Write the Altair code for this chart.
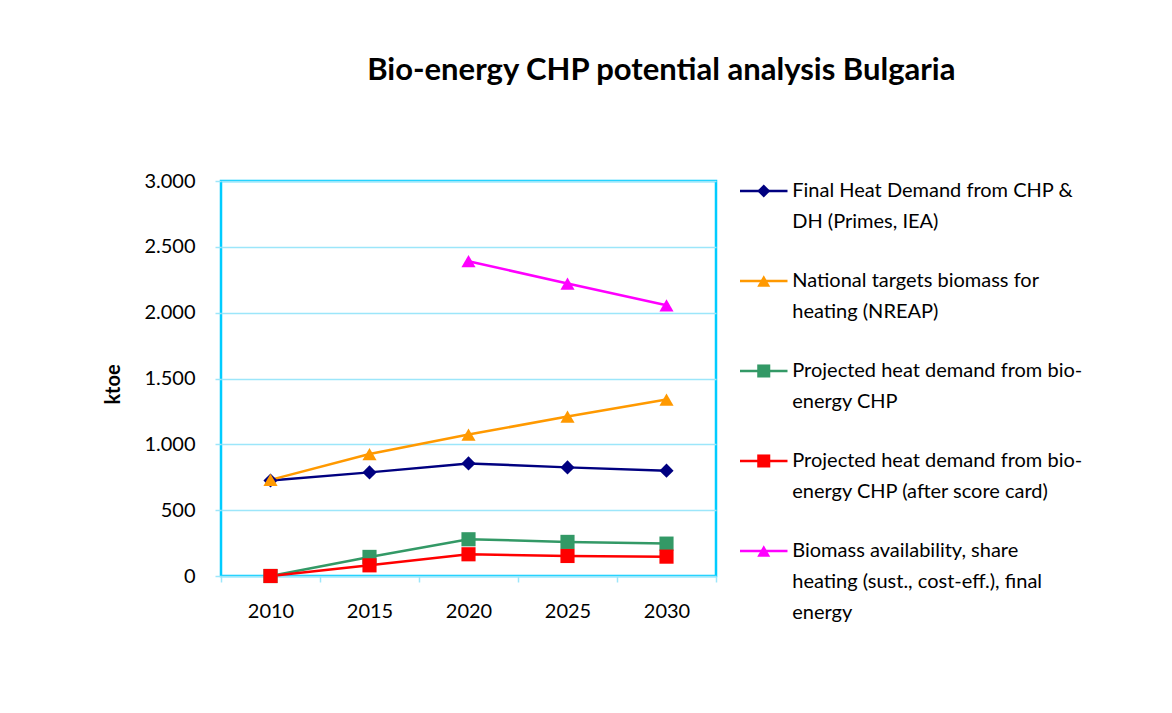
import altair as alt
import pandas as pd

FONT = "Lato"
GRID = "#9CE6FA"
FRAME = "#00CCFF"

years = ["2010", "2015", "2020", "2025", "2030"]
series_names = [
    "Final Heat Demand from CHP & DH (Primes, IEA)",
    "National targets biomass for heating (NREAP)",
    "Projected heat demand from bio-energy CHP",
    "Projected heat demand from bio-energy CHP (after score card)",
    "Biomass availability, share heating (sust., cost-eff.), final energy",
]
legend_labels = [
    "Final Heat Demand from CHP &\nDH (Primes, IEA)",
    "National targets biomass for\nheating (NREAP)",
    "Projected heat demand from bio-\nenergy CHP",
    "Projected heat demand from bio-\nenergy CHP (after score card)",
    "Biomass availability, share\nheating (sust., cost-eff.), final\nenergy",
]
final_heat = [725, 787, 855, 825, 800]
nreap_targets = [730, 926, 1074, 1211, 1340]
bio_chp = [0, 145, 279, 259, 246]
bio_chp_scored = [0, 81, 165, 152, 147]
biomass_avail = [None, None, 2391, 2221, 2056]

colors = ["#000080", "#FF9900", "#339966", "#FF0000", "#FF00FF"]
shapes = ["diamond", "triangle-up", "square", "square", "triangle-up"]
y_ticks = [0, 500, 1000, 1500, 2000, 2500, 3000]

all_series = [final_heat, nreap_targets, bio_chp, bio_chp_scored, biomass_avail]
rows = []
for name, vals in zip(series_names, all_series):
    for yr, v in zip(years, vals):
        if v is not None:
            rows.append({"series": name, "year": yr, "value": v})
df = pd.DataFrame(rows)

color_enc = alt.Color("series:N", scale=alt.Scale(domain=series_names, range=colors), legend=None)
shape_enc = alt.Shape("series:N", scale=alt.Scale(domain=series_names, range=shapes), legend=None)

x_enc = alt.X(
    "year:O",
    sort=years,
    scale=alt.Scale(paddingInner=0, paddingOuter=0),
    axis=alt.Axis(
        title=None, tickBand="extent", labelAngle=0, labelFont=FONT, labelFontSize=20,
        labelColor="#000000", labelPadding=19, tickColor=GRID, tickSize=6, tickWidth=1.5,
        domain=False, grid=False,
    ),
)
y_enc = alt.Y(
    "value:Q",
    scale=alt.Scale(domain=[0, 3000], nice=False),
    axis=alt.Axis(
        values=y_ticks,
        labelExpr="replace(format(datum.value, ','), ',', '.')",
        title="ktoe", titleFont=FONT, titleFontSize=20, titleFontWeight="bold",
        titleColor="#000000", titlePadding=20, titleY=203,
        labelFont=FONT, labelFontSize=20, labelColor="#000000", labelPadding=20,
        grid=True, gridColor=GRID, gridWidth=1.5, tickColor=GRID, tickSize=6, tickWidth=1.5,
        domain=False,
    ),
)

base = alt.Chart(df)
lines = base.mark_line(strokeWidth=2.5).encode(x=x_enc, y=y_enc, color=color_enc, detail="series:N")
points = base.mark_point(filled=True, size=200, opacity=1).encode(
    x=x_enc, y=y_enc, color=color_enc, shape=shape_enc
)
main = alt.layer(lines, points).properties(
    width=495, height=395,
    view=alt.ViewBackground(stroke=FRAME, strokeWidth=2.5, fill="white"),
)

# legend panel
leg_df = pd.DataFrame({
    "series": series_names,
    "label": legend_labels,
    "idx": list(range(len(series_names))),
})
lx = alt.Scale(domain=[0, 8])
ly = alt.Scale(domain=[-0.111, 4.278], reverse=True)
leg_base = alt.Chart(leg_df).transform_calculate(x0="0", x1="1", xm="0.5", xt="1.1")
leg_rule = leg_base.mark_rule(strokeWidth=2.5).encode(
    x=alt.X("x0:Q", scale=lx, axis=None), x2="x1:Q",
    y=alt.Y("idx:Q", scale=ly, axis=None), color=color_enc,
)
leg_pt = leg_base.mark_point(filled=True, size=170, opacity=1).encode(
    x=alt.X("xm:Q", scale=lx, axis=None),
    y=alt.Y("idx:Q", scale=ly, axis=None), color=color_enc, shape=shape_enc,
)
leg_txt = leg_base.mark_text(
    align="left", baseline="top", dy=-10, lineBreak="\n", lineHeight=31,
    font=FONT, fontSize=20, color="#000000",
).encode(
    x=alt.X("xt:Q", scale=lx, axis=None),
    y=alt.Y("idx:Q", scale=ly, axis=None), text="label:N",
)
legend = alt.layer(leg_rule, leg_pt, leg_txt).properties(width=380, height=395)

chart = alt.hconcat(main, legend, spacing=20).properties(
    title=alt.TitleParams(
        "Bio-energy CHP potential analysis Bulgaria",
        font=FONT, fontSize=31, fontWeight="bold", color="#000000",
        anchor="middle", offset=83, dx=50,
    ),
    padding={"left": 94, "top": 46, "right": 5, "bottom": 5},
    background="white",
).configure_view(strokeWidth=0).configure_concat(spacing=20)

chart.save("out.html", embed_options={"renderer": "svg", "actions": False})
